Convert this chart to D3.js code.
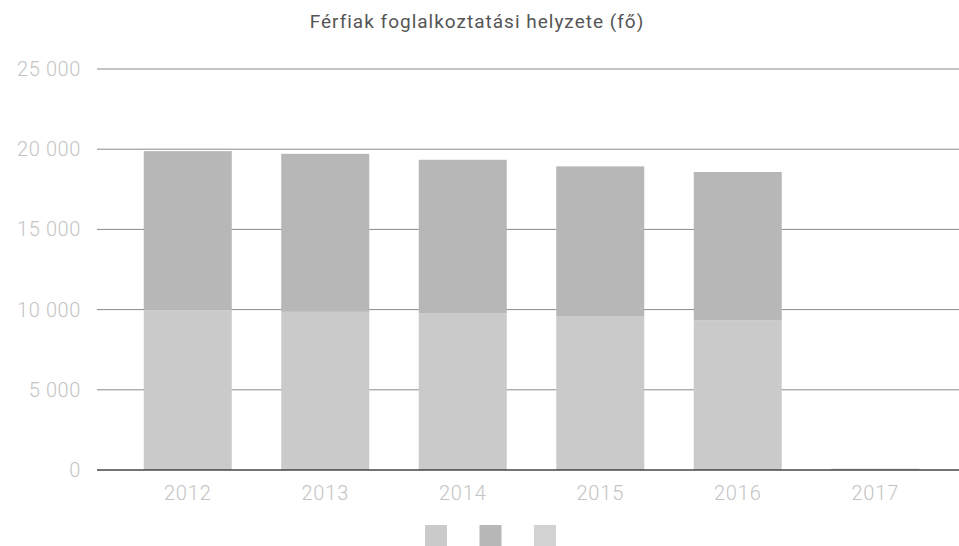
<!DOCTYPE html>
<html lang="hu">
<head>
<meta charset="utf-8">
<script src="https://d3js.org/d3.v7.min.js"></script>
<style>
  body { margin: 0; background: #fff; }
  svg { display: block; font-family: Roboto, "Noto Sans", sans-serif; }
</style>
</head>
<body>
<div id="chart"></div>
<script>
// data
const years = ["2012", "2013", "2014", "2015", "2016", "2017"];
const seriesNames = ["s1", "s2", "s3"];
const series1 = [9950, 9860, 9760, 9590, 9340, 0];
const series2 = [9930, 9850, 9580, 9340, 9240, 0];
const series3 = [0, 0, 0, 0, 0, 90];
const yTicks = [0, 5000, 10000, 15000, 20000, 25000];
const colors = ["#cacaca", "#b7b7b7", "#d2d2d2"];

const W = 959, H = 546;
const margin = {top: 69, right: 15, bottom: 76, left: 97};

const svg = d3.select("#chart").append("svg")
  .attr("width", W).attr("height", H);

const x = d3.scaleBand()
  .domain(years)
  .range([119, 944])
  .paddingInner(0.36)
  .paddingOuter(0.18);

const y = d3.scaleLinear()
  .domain([0, 25000])
  .range([H - margin.bottom, margin.top]);

const fmt = v => d3.format(",")(v).replace(/,/g, " ");

// gridlines
svg.append("g")
  .selectAll("line")
  .data(yTicks.filter(d => d > 0))
  .join("line")
    .attr("x1", margin.left)
    .attr("x2", W)
    .attr("y1", d => y(d))
    .attr("y2", d => y(d))
    .attr("stroke", "#8a8a8a")
    .attr("stroke-width", 1);

// y labels
svg.append("g")
  .selectAll("text")
  .data(yTicks)
  .join("text")
    .attr("x", 81)
    .attr("y", d => y(d))
    .attr("dy", "0.35em")
    .attr("text-anchor", "end")
    .attr("fill", "#c4c4c4")
    .style("font-size", "20px")
    .style("font-weight", 300)
    .style("letter-spacing", "0.6px")
    .text(d => fmt(d));

// stacked bars
const rows = years.map((yr, i) => ({year: yr, s1: series1[i], s2: series2[i], s3: series3[i]}));
const stacked = d3.stack().keys(seriesNames)(rows);

svg.append("g")
  .selectAll("g")
  .data(stacked)
  .join("g")
    .attr("fill", (d, i) => colors[i])
  .selectAll("rect")
  .data(d => d)
  .join("rect")
    .attr("x", d => x(d.data.year))
    .attr("width", x.bandwidth())
    .attr("y", d => y(d[1]))
    .attr("height", d => y(d[0]) - y(d[1]));

// baseline
svg.append("line")
  .attr("x1", margin.left)
  .attr("x2", W)
  .attr("y1", y(0))
  .attr("y2", y(0))
  .attr("stroke", "#444")
  .attr("stroke-width", 1.5);

// x labels
svg.append("g")
  .selectAll("text")
  .data(years)
  .join("text")
    .attr("x", d => x(d) + x.bandwidth() / 2)
    .attr("y", 500)
    .attr("text-anchor", "middle")
    .attr("fill", "#c4c4c4")
    .style("font-size", "20px")
    .style("font-weight", 300)
    .style("letter-spacing", "0.8px")
    .text(d => d);

// title
svg.append("text")
  .attr("x", 477)
  .attr("y", 28)
  .attr("text-anchor", "middle")
  .attr("fill", "#555")
  .style("font-size", "19px")
  .style("letter-spacing", "1px")
  .text("Férfiak foglalkoztatási helyzete (fő)");

// legend (colour squares only)
const legendX = d3.scalePoint()
  .domain(seriesNames)
  .range([425, 534]);

svg.append("g")
  .selectAll("rect")
  .data(seriesNames)
  .join("rect")
    .attr("x", d => legendX(d))
    .attr("y", 525)
    .attr("width", 22)
    .attr("height", 22)
    .attr("fill", (d, i) => colors[i]);
</script>
</body>
</html>
